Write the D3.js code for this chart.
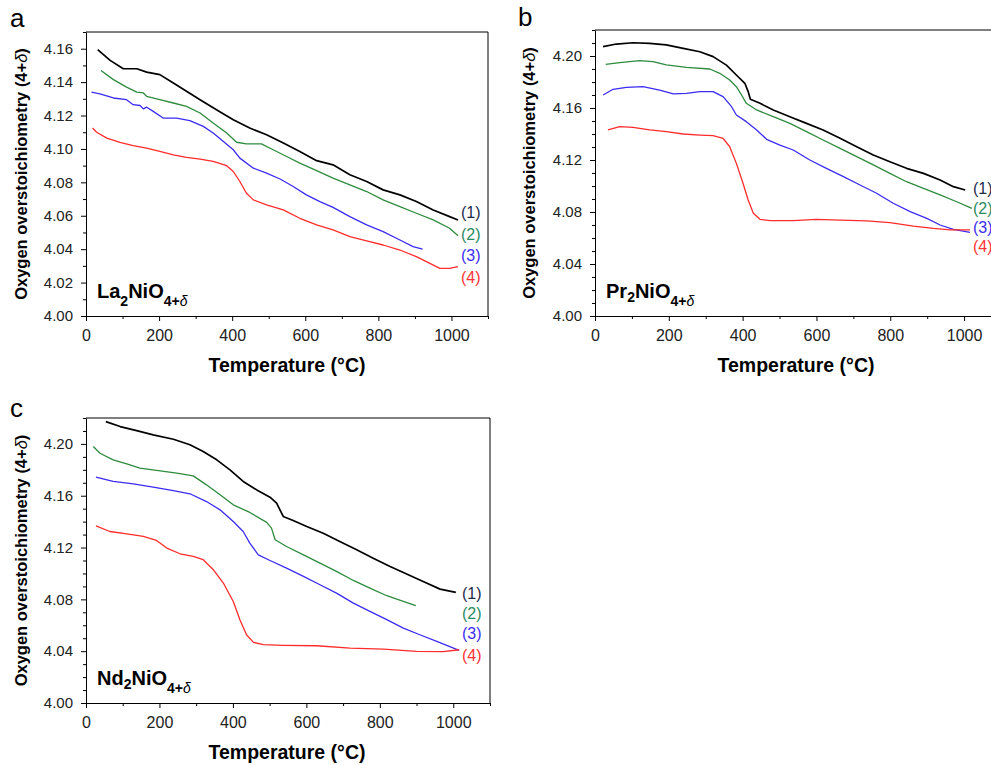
<!DOCTYPE html>
<html>
<head>
<meta charset="utf-8">
<script src="https://cdn.jsdelivr.net/npm/d3@7"></script>
<style>
  body { margin: 0; background: #fff; }
  svg { display: block; font-family: "Liberation Sans", Arial, sans-serif; }
  .tick text { fill: #222; }
</style>
</head>
<body>
<div id="chart"></div>
<script>
// [temperature (°C), 4+delta]
var la1 = [[32,4.1595],[66,4.153],[102,4.148],[139,4.148],[166,4.146],[202,4.1445],[239,4.1395],[275,4.1345],[312,4.1295],[357,4.1235],[403,4.1175],[448,4.1125],[494,4.1085],[540,4.1035],[585,4.0985],[631,4.093],[676,4.0905],[722,4.0845],[768,4.0805],[813,4.0755],[859,4.0725],[904,4.0685],[950,4.0635],[995,4.0595],[1018,4.0575]];
var la2 = [[41,4.1469],[75,4.1415],[111,4.137],[139,4.134],[157,4.1335],[166,4.1315],[202,4.1295],[239,4.1275],[275,4.1255],[312,4.1215],[348,4.1155],[385,4.1095],[412,4.104],[439,4.103],[480,4.103],[512,4.0995],[549,4.0955],[585,4.0915],[631,4.087],[676,4.0825],[722,4.0785],[768,4.0745],[813,4.0695],[859,4.0655],[904,4.0615],[950,4.0575],[995,4.0525],[1018,4.048]];
var la3 = [[15,4.134],[38,4.133],[75,4.1305],[111,4.1295],[129,4.1265],[148,4.126],[157,4.124],[166,4.125],[184,4.1225],[211,4.1185],[248,4.1185],[284,4.117],[321,4.1135],[348,4.1095],[376,4.1045],[403,4.0995],[421,4.0945],[458,4.0885],[494,4.0855],[531,4.082],[567,4.0775],[603,4.0725],[640,4.0685],[676,4.065],[722,4.0595],[768,4.0545],[813,4.0505],[859,4.0455],[895,4.0415],[921,4.040]];
var la4 = [[18,4.1125],[29,4.110],[57,4.1065],[93,4.104],[129,4.102],[166,4.1005],[202,4.0985],[239,4.0965],[275,4.095],[312,4.0939],[348,4.0925],[385,4.090],[403,4.0865],[421,4.0805],[439,4.0735],[458,4.0695],[494,4.0665],[540,4.0635],[585,4.0585],[631,4.0545],[676,4.0515],[722,4.0475],[768,4.045],[813,4.0425],[859,4.0395],[904,4.0355],[941,4.0315],[968,4.0285],[995,4.0285],[1018,4.0295]];

var pr1 = [[22,4.2072],[58,4.2092],[103,4.2102],[148,4.2097],[193,4.2085],[239,4.2059],[284,4.2033],[320,4.1995],[356,4.193],[383,4.1854],[406,4.179],[415,4.1726],[421,4.1667],[447,4.1636],[483,4.1585],[528,4.1533],[573,4.1482],[618,4.1431],[664,4.1367],[709,4.1302],[754,4.1238],[799,4.1187],[844,4.1136],[890,4.1097],[935,4.1046],[971,4.0995],[1003,4.0969]];
var pr2 = [[29,4.1936],[67,4.1949],[121,4.1964],[157,4.1956],[193,4.1931],[248,4.1913],[311,4.19],[338,4.1867],[365,4.1815],[383,4.1764],[397,4.17],[410,4.1636],[438,4.1585],[483,4.1533],[528,4.1482],[573,4.1418],[618,4.1354],[664,4.129],[709,4.1226],[754,4.1162],[799,4.1097],[844,4.1033],[890,4.0982],[935,4.0931],[980,4.0879],[1021,4.0828]];
var pr3 = [[22,4.170],[49,4.1744],[85,4.1759],[130,4.1764],[175,4.1738],[212,4.1708],[248,4.1713],[284,4.1726],[320,4.1726],[347,4.1687],[370,4.161],[383,4.1546],[410,4.1495],[438,4.1431],[465,4.1359],[501,4.1315],[537,4.1277],[582,4.120],[627,4.1136],[673,4.1072],[718,4.1008],[763,4.0944],[808,4.0867],[854,4.0803],[899,4.0751],[935,4.070],[971,4.0667],[1016,4.0644]];
var pr4 = [[35,4.1431],[67,4.1456],[103,4.1451],[148,4.1431],[193,4.1418],[239,4.140],[284,4.1392],[320,4.1387],[347,4.1367],[365,4.1302],[383,4.1174],[401,4.1021],[415,4.0892],[429,4.079],[447,4.0744],[474,4.0733],[537,4.0733],[600,4.0744],[664,4.0738],[736,4.0731],[799,4.0718],[863,4.0692],[917,4.0674],[962,4.0662],[1016,4.0662]];

var nd1 = [[54,4.2172],[93,4.2134],[138,4.2103],[183,4.207],[238,4.2036],[283,4.1993],[319,4.1941],[356,4.1877],[392,4.180],[428,4.171],[465,4.1645],[501,4.1589],[519,4.1543],[537,4.144],[564,4.1409],[601,4.1363],[646,4.1311],[691,4.1247],[737,4.1183],[782,4.1118],[828,4.1054],[873,4.0995],[918,4.0938],[964,4.0879],[1007,4.0854]];
var nd2 = [[20,4.198],[38,4.1928],[74,4.1877],[111,4.1846],[147,4.1813],[192,4.1795],[247,4.1774],[292,4.1753],[328,4.1684],[365,4.1607],[401,4.153],[446,4.1471],[492,4.1394],[505,4.135],[515,4.126],[546,4.1208],[592,4.1144],[637,4.108],[682,4.1016],[728,4.0946],[773,4.0887],[819,4.0828],[864,4.0784],[898,4.0751]];
var nd3 = [[27,4.1743],[74,4.171],[129,4.1692],[183,4.1666],[238,4.164],[283,4.1615],[328,4.1555],[365,4.1491],[401,4.1401],[428,4.1324],[446,4.1234],[469,4.1144],[501,4.110],[546,4.1041],[592,4.0977],[637,4.0913],[682,4.0848],[728,4.0771],[773,4.0707],[819,4.0643],[864,4.0578],[909,4.0527],[955,4.0476],[1016,4.0406]];
var nd4 = [[27,4.1368],[65,4.1324],[111,4.1306],[156,4.1286],[192,4.1255],[220,4.1196],[256,4.1152],[292,4.1131],[319,4.1106],[347,4.1028],[374,4.0926],[401,4.0784],[419,4.0643],[437,4.0527],[456,4.0468],[483,4.045],[537,4.0445],[628,4.0442],[719,4.0424],[810,4.0416],[900,4.0398],[973,4.0396],[1016,4.0411]];

var seriesNames = ["(1)", "(2)", "(3)", "(4)"];
var lineColors = ["#000000", "#2e8b3e", "#3b2cf2", "#ff2b2b"];
var labelColors = ["#1c2b4a", "#2a8a62", "#3b2cf2", "#ff3333"];

var xTicks = [0, 200, 400, 600, 800, 1000];
var xMinor = [100, 300, 500, 700, 900, 1100];
var yTicksA = [4.00, 4.02, 4.04, 4.06, 4.08, 4.10, 4.12, 4.14, 4.16];
var yTicksBC = [4.00, 4.04, 4.08, 4.12, 4.16, 4.20];

var svg = d3.select("#chart").append("svg")
    .attr("width", 991)
    .attr("height", 765);

function panel(p) {
    var x = d3.scaleLinear().domain([0, 1100]).range([p.left, p.right]);
    var y = d3.scaleLinear().domain([4.00, p.yMax]).range([p.bottom, p.top]);
    var g = svg.append("g");

    var minorY = d3.range(0, Math.round((p.yMax - 4.00) * 100) + 1)
        .map(function (i) { return +(4 + i * 0.01).toFixed(2); })
        .filter(function (v) { return p.yTicks.indexOf(v) < 0; });

    // frame
    g.append("line").attr("x1", p.left).attr("x2", p.right).attr("y1", p.top).attr("y2", p.top)
        .attr("stroke", "#000").attr("stroke-width", 1);
    g.append("line").attr("x1", p.right).attr("x2", p.right).attr("y1", p.top).attr("y2", p.bottom)
        .attr("stroke", "#000").attr("stroke-width", 1);

    g.append("g")
        .attr("transform", "translate(0," + p.bottom + ")")
        .call(d3.axisBottom(x).tickValues(xMinor).tickSize(3).tickSizeOuter(0).tickFormat(""))
        .call(function (a) { a.select(".domain").remove(); });
    g.append("g")
        .attr("transform", "translate(" + p.left + ",0)")
        .call(d3.axisLeft(y).tickValues(minorY).tickSize(3).tickSizeOuter(0).tickFormat(""))
        .call(function (a) { a.select(".domain").remove(); });

    g.append("g")
        .attr("transform", "translate(0," + p.bottom + ")")
        .style("font-size", "16px")
        .call(d3.axisBottom(x).tickValues(xTicks).tickSize(5).tickSizeOuter(0).tickPadding(9)
            .tickFormat(d3.format("d")));
    g.append("g")
        .attr("transform", "translate(" + p.left + ",0)")
        .style("font-size", "15px")
        .call(d3.axisLeft(y).tickValues(p.yTicks).tickSize(5).tickSizeOuter(0).tickPadding(8)
            .tickFormat(d3.format(".2f")));
    g.selectAll(".domain").attr("stroke", "#000");
    g.selectAll(".tick line").attr("stroke", "#000");

    var line = d3.line()
        .x(function (d) { return x(d[0]); })
        .y(function (d) { return y(d[1]); });

    p.data.forEach(function (s, i) {
        g.append("path")
            .datum(s)
            .attr("fill", "none")
            .attr("stroke", lineColors[i])
            .attr("stroke-width", i === 0 ? 1.7 : 1.3)
            .attr("stroke-linejoin", "round")
            .attr("d", line);
    });

    seriesNames.forEach(function (n, i) {
        g.append("text")
            .attr("x", p.labelX)
            .attr("y", p.labelY[i])
            .attr("dy", "0.35em")
            .attr("fill", labelColors[i])
            .style("font-size", "16px")
            .text(n);
    });

    // compound name
    var t = g.append("text")
        .attr("x", p.left + 11)
        .attr("y", p.bottom - 18)
        .style("font-size", "20px")
        .style("font-weight", "bold")
        .attr("fill", "#000");
    t.append("tspan").text(p.el);
    t.append("tspan").attr("dy", p.subDrop).style("font-size", "14px").text("2");
    t.append("tspan").attr("dy", -p.subDrop).text("NiO");
    t.append("tspan").attr("dy", 8).style("font-size", "14px").text("4+");
    t.append("tspan").style("font-size", "14px").style("font-weight", "normal")
        .style("font-style", "italic").text("δ");

    var yl = g.append("text")
        .attr("transform", "translate(" + p.yLabelX + "," + ((p.top + p.bottom) / 2) + ") rotate(-90)")
        .attr("text-anchor", "middle")
        .style("font-size", "16.5px")
        .style("font-weight", "bold");
    yl.append("tspan").text("Oxygen overstoichiometry (4+");
    yl.append("tspan").style("font-style", "italic").style("font-weight", "normal").text("δ");
    yl.append("tspan").text(")");

    g.append("text")
        .attr("x", (p.left + Math.min(p.right, 488 + p.left - 86)) / 2)
        .attr("y", p.bottom + 56)
        .attr("text-anchor", "middle")
        .style("font-size", "19.5px")
        .style("font-weight", "bold")
        .text("Temperature (°C)");

    svg.append("text")
        .attr("x", p.letterX)
        .attr("y", p.letterY)
        .style("font-size", "26px")
        .text(p.letter);
}

panel({ left: 86, right: 488, top: 32, bottom: 316, yMax: 4.17, yTicks: yTicksA,
    data: [la1, la2, la3, la4], el: "La", subDrop: 8,
    labelX: 461, labelY: [212, 234, 255, 277], yLabelX: 27, letter: "a", letterX: 10, letterY: 27 });
panel({ left: 595, right: 1001, top: 30, bottom: 316, yMax: 4.22, yTicks: yTicksBC,
    data: [pr1, pr2, pr3, pr4], el: "Pr", subDrop: 4,
    labelX: 973, labelY: [188, 208, 227, 246], yLabelX: 535, letter: "b", letterX: 518, letterY: 26 });
panel({ left: 86, right: 490, top: 418, bottom: 703, yMax: 4.22, yTicks: yTicksBC,
    data: [nd1, nd2, nd3, nd4], el: "Nd", subDrop: 4,
    labelX: 462, labelY: [593, 613, 633, 655], yLabelX: 27, letter: "c", letterX: 10, letterY: 417 });
</script>
</body>
</html>
